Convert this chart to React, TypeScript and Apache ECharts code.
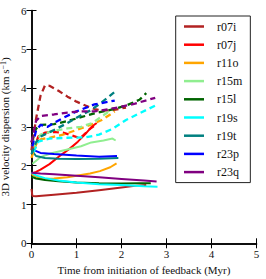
import React, { useEffect, useRef } from "react";
import * as echarts from "echarts";

const runNames = ["r07i", "r07j", "r11o", "r15m", "r15l", "r19s", "r19t", "r23p", "r23q"];
const runColors = ["#b22222", "#ff0000", "#ffa500", "#90ee90", "#006400", "#00ffff", "#008080", "#0000ff", "#800080"];

// solid curves [time (Myr), dispersion (km/s)]
const r07iSolid = [[0, 1.4], [0.02, 1.22], [0.1, 1.21], [0.5, 1.25], [1.0, 1.3], [1.5, 1.37], [2.0, 1.44], [2.3, 1.48], [2.55, 1.5]];
const r07jSolid = [[0, 1.8], [0.1, 1.84], [0.2, 1.9], [0.4, 2.04], [0.66, 2.28], [0.85, 2.44], [1.03, 2.62], [1.2, 2.82], [1.35, 3.02], [1.45, 3.1]];
const r11oSolid = [[0, 1.78], [0.1, 1.72], [0.3, 1.66], [0.5, 1.67], [0.8, 1.7], [1.0, 1.74], [1.3, 1.8], [1.52, 1.86], [1.75, 1.96], [1.89, 2.06]];
const r15mSolid = [[0.02, 2.05], [0.2, 2.22], [0.44, 2.32], [0.8, 2.42], [1.1, 2.5], [1.33, 2.6], [1.6, 2.65], [1.8, 2.7], [1.87, 2.65]];
const r15lSolid = [[0, 1.72], [0.1, 1.67], [0.3, 1.63], [0.6, 1.6], [1.0, 1.57], [1.5, 1.55], [2.0, 1.54], [2.4, 1.55], [2.65, 1.55]];
const r19sSolid = [[0, 1.82], [0.1, 1.75], [0.3, 1.68], [0.6, 1.62], [1.0, 1.57], [1.5, 1.52], [2.0, 1.5], [2.5, 1.47], [2.8, 1.46]];
const r19tSolid = [[0, 2.4], [0.1, 2.25], [0.3, 2.2], [0.6, 2.18], [1.0, 2.17], [1.5, 2.18], [1.93, 2.2]];
const r23pSolid = [[0, 2.55], [0.05, 2.4], [0.2, 2.33], [0.5, 2.3], [1.0, 2.26], [1.5, 2.23], [1.9, 2.25]];
const r23qSolid = [[0, 1.82], [0.2, 1.8], [0.5, 1.78], [1.0, 1.74], [1.5, 1.7], [2.0, 1.66], [2.5, 1.62], [2.78, 1.59]];

// dashed curves
const r07iDashed = [[0, 2.4], [0.1, 3.2], [0.2, 3.8], [0.3, 4.07], [0.4, 4.06], [0.6, 3.93], [0.8, 3.78], [1.0, 3.65], [1.2, 3.55], [1.4, 3.46], [1.6, 3.42], [1.8, 3.43], [2.1, 3.5]];
const r07jDashed = [[0.05, 2.4], [0.15, 2.75], [0.3, 2.85], [0.5, 2.87], [0.7, 2.85], [0.9, 2.78], [1.05, 2.72], [1.15, 2.78], [1.3, 2.95], [1.45, 3.08]];
const r11oDashed = [[0, 2.2], [0.1, 2.55], [0.2, 2.68], [0.4, 2.72], [0.7, 2.8], [1.0, 2.92], [1.3, 3.05], [1.55, 3.17], [1.75, 3.32], [1.85, 3.4]];
const r15mDashed = [[0.05, 2.5], [0.2, 2.8], [0.5, 2.9], [0.8, 2.96], [1.1, 3.0], [1.35, 3.1], [1.6, 3.3], [1.82, 3.48]];
const r15lDashed = [[0, 2.6], [0.1, 2.95], [0.2, 3.05], [0.5, 3.07], [0.8, 3.15], [1.1, 3.25], [1.4, 3.35], [1.8, 3.45], [2.1, 3.55], [2.4, 3.7], [2.55, 3.87]];
const r19sDashed = [[0.05, 2.35], [0.15, 2.62], [0.4, 2.7], [0.8, 2.72], [1.2, 2.73], [1.5, 2.8], [1.8, 2.95], [2.1, 3.18], [2.4, 3.35], [2.75, 3.55]];
const r19tDashed = [[0, 2.3], [0.1, 2.6], [0.2, 2.75], [0.5, 2.92], [0.8, 3.1], [1.1, 3.3], [1.3, 3.42], [1.5, 3.58], [1.7, 3.76], [1.9, 3.95]];
const r23pDashed = [[0.02, 2.5], [0.1, 2.9], [0.2, 3.05], [0.35, 3.0], [0.5, 3.1], [0.7, 3.23], [1.0, 3.4], [1.4, 3.58], [1.85, 3.68]];
const r23qDashed = [[0, 2.6], [0.1, 3.15], [0.2, 3.28], [0.5, 3.32], [0.8, 3.37], [1.1, 3.4], [1.4, 3.4], [1.7, 3.45], [2.0, 3.52], [2.3, 3.6], [2.6, 3.7], [2.75, 3.75]];

const solidData = [r07iSolid, r07jSolid, r11oSolid, r15mSolid, r15lSolid, r19sSolid, r19tSolid, r23pSolid, r23qSolid];
const dashedData = [r07iDashed, r07jDashed, r11oDashed, r15mDashed, r15lDashed, r19sDashed, r19tDashed, r23pDashed, r23qDashed];

const xTicks = { min: 0, max: 5, interval: 1 };
const yTicks = { min: 0, max: 6, interval: 1 };

const FONT = "'Liberation Serif', 'DejaVu Serif', serif";

export default function App() {
  const ref = useRef<HTMLDivElement>(null);
  useEffect(() => {
    if (!ref.current) return;
    const chart = echarts.init(ref.current, undefined, { renderer: "svg" });
    const axisCommon = {
      type: "value" as const,
      splitLine: { show: false },
      axisLine: { show: true, lineStyle: { color: "#000", width: 1.5 } },
      axisTick: { show: true, inside: true, length: 5, lineStyle: { color: "#000", width: 1 } },
    };
    const labelStyle = { color: "#111", fontFamily: FONT, fontSize: 11, fontWeight: "normal" as const };
    const series: any[] = [];
    runNames.forEach((n, i) => {
      series.push({
        name: n,
        type: "line",
        data: solidData[i],
        showSymbol: false,
        symbol: "none",
        lineStyle: { color: runColors[i], width: 2 },
        itemStyle: { color: runColors[i] },
        z: 2,
      });
    });
    runNames.forEach((n, i) => {
      series.push({
        name: n + " dashed",
        type: "line",
        data: dashedData[i],
        showSymbol: false,
        symbol: "none",
        lineStyle: { color: runColors[i], width: 2.3, type: [6, 4] },
        itemStyle: { color: runColors[i] },
        z: 2,
      });
    });
    chart.setOption({
      animation: false,
      backgroundColor: "#fff",
      grid: { left: 31.5, right: 9.5, top: 10.5, bottom: 35.7, containLabel: false, outerBoundsMode: "none" },
      xAxis: [
        {
          ...axisCommon,
          ...xTicks,
          position: "bottom",
          axisLabel: { ...labelStyle, margin: 5 },
          name: "Time from initiation of feedback (Myr)",
          nameLocation: "middle",
          nameGap: 14,
          nameTextStyle: { ...labelStyle },
        },
        {
          ...axisCommon,
          ...xTicks,
          position: "top",
          axisLabel: { show: false },
        },
      ],
      yAxis: [
        {
          ...axisCommon,
          ...yTicks,
          position: "left",
          axisLabel: { ...labelStyle, margin: 5 },
          name: "3D velocity dispersion (km s{sup|−1})",
          nameLocation: "middle",
          nameGap: 11,
          nameTextStyle: {
            ...labelStyle,
            rich: { sup: { fontFamily: FONT, fontSize: 8, fontWeight: "normal", verticalAlign: "top", color: "#111" } },
          },
        },
        {
          ...axisCommon,
          ...yTicks,
          position: "right",
          axisLabel: { show: false },
        },
      ],
      legend: {
        data: runNames,
        orient: "vertical",
        left: 175.7,
        top: 16,
        icon: "rect",
        itemWidth: 20,
        itemHeight: 2.5,
        itemGap: 0.2,
        padding: [1.5, 8, 1.5, 8.3],
        borderColor: "#222",
        borderWidth: 1,
        borderRadius: 0,
        backgroundColor: "#fff",
        textStyle: { color: "#111", fontFamily: FONT, fontSize: 12, fontWeight: "normal", lineHeight: 18, height: 18, padding: [0, 0, 0, 8] },
      },
      series,
    });
    return () => chart.dispose();
  }, []);
  return <div ref={ref} style={{ position: "fixed", left: 0, top: 0, width: 266, height: 279 }} />;
}
